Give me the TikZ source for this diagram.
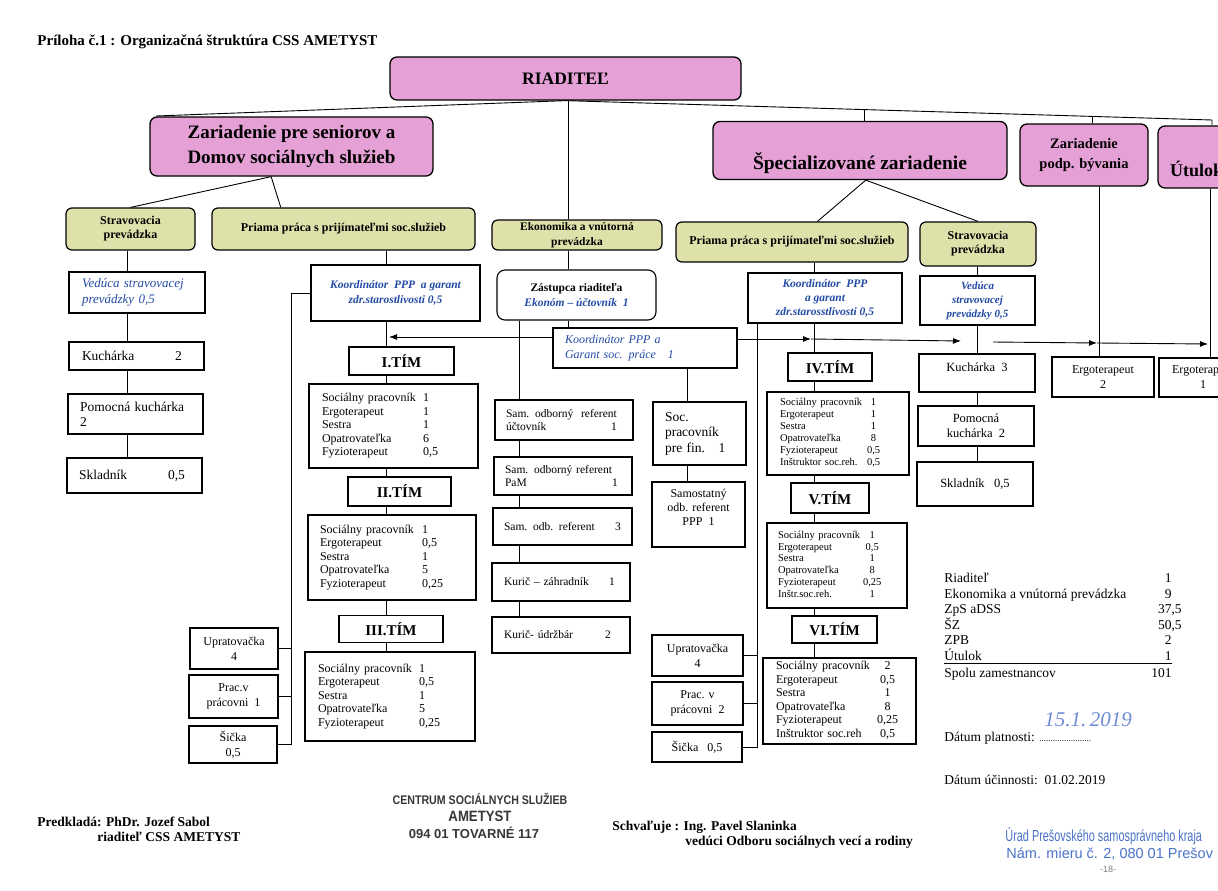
\documentclass[tikz,border=0pt]{standalone}
\usepackage{fontspec}
\setmainfont{Liberation Serif}
\newfontfamily\pecfont{Liberation Sans}
\usetikzlibrary{arrows.meta, calc}

\definecolor{ruzova}{RGB}{229,160,214}
\definecolor{zelena}{RGB}{222,226,170}
\definecolor{modra}{RGB}{35,75,165}
\definecolor{pero}{RGB}{110,140,215}
\definecolor{peciatka}{RGB}{75,115,200}
\definecolor{siva}{RGB}{55,55,55}

\begin{document}
\begin{tikzpicture}[x=1pt, y=-1pt, line width=0.9pt]

	\tikzstyle{hlavny}=[draw, line width=1.3pt, rounded corners=7pt, fill=ruzova, align=center, inner sep=0pt]
	\tikzstyle{usek}=[draw, line width=1.2pt, rounded corners=6pt, fill=zelena, align=center, inner sep=0pt, font=\bfseries\fontsize{12}{14}\selectfont]
	\tikzstyle{prac}=[draw, line width=1.1pt, align=center, inner sep=0pt, font=\fontsize{12}{15}\selectfont]
	\tikzstyle{vlavo}=[prac, align=left]
	\tikzstyle{tim}=[draw, line width=1.3pt, inner sep=0pt, font=\bfseries\fontsize{15}{18}\selectfont]
	\tikzstyle{zoznam}=[draw, line width=1.1pt, align=left, inner ysep=0pt, font=\fontsize{12}{13.6}\selectfont]
	\tikzstyle{txt}=[inner sep=0pt, anchor=base west, font=\fontsize{13.5}{16}\selectfont]
	\tikzstyle{sipka}=[-{Latex[length=8pt, width=6pt]}]

	\useasboundingbox (0,0) rectangle (1218,891);
	\fill[white] (0,0) rectangle (1218,891);

	\coordinate (riaditel) at (565.5,78.5);
	\coordinate (zps) at (291.5,146.5);
	\coordinate (sz) at (860,150.5);
	\coordinate (zpb) at (1084,155);
	\coordinate (utulok) at (1210,157);

	\coordinate (strav1) at (130.5,229); % USEKY
	\coordinate (priama1) at (343.5,229); % USEKY
	\coordinate (ekon) at (577,235); % USEKY
	\coordinate (priama2) at (792,242); % USEKY
	\coordinate (strav2) at (978,244); % USEKY

	\coordinate (ved1) at (137,292.5); % STRAVOVACIA ZPS
	\coordinate (kuch1) at (136.5,356); % STRAVOVACIA ZPS
	\coordinate (pomk1) at (135.5,414); % STRAVOVACIA ZPS
	\coordinate (skl1) at (134.5,475.5); % STRAVOVACIA ZPS

	\coordinate (koord1) at (395.5,293); % PRIAMA PRACA ZPS
	\coordinate (tim1) at (401.5,361); % PRIAMA PRACA ZPS
	\coordinate (zoz1) at (393.5,426); % PRIAMA PRACA ZPS
	\coordinate (tim2) at (399.5,491.5); % PRIAMA PRACA ZPS
	\coordinate (zoz2) at (392,557.5); % PRIAMA PRACA ZPS
	\coordinate (tim3) at (391,629); % PRIAMA PRACA ZPS
	\coordinate (zoz3) at (390,696.5); % PRIAMA PRACA ZPS
	\coordinate (upr1) at (234,648.5); % PRIAMA PRACA ZPS
	\coordinate (prac1) at (233.5,696.5); % PRIAMA PRACA ZPS
	\coordinate (sic1) at (233,744.5); % PRIAMA PRACA ZPS

	\coordinate (zast) at (576.5,295); % EKONOMIKA
	\coordinate (koord2) at (645,348); % EKONOMIKA
	\coordinate (sam1) at (564,420); % EKONOMIKA
	\coordinate (sam2) at (563,476); % EKONOMIKA
	\coordinate (sam3) at (562.5,526.5); % EKONOMIKA
	\coordinate (kur1) at (561,582); % EKONOMIKA
	\coordinate (kur2) at (561,635); % EKONOMIKA
	\coordinate (soc) at (699.5,433.5); % EKONOMIKA
	\coordinate (samref) at (698.5,514.5); % EKONOMIKA

	\coordinate (koord3) at (825,298); % PRIAMA PRACA SZ
	\coordinate (tim4) at (830,367); % PRIAMA PRACA SZ
	\coordinate (zoz4) at (838,433.5); % PRIAMA PRACA SZ
	\coordinate (tim5) at (830,498); % PRIAMA PRACA SZ
	\coordinate (zoz5) at (837,565.5); % PRIAMA PRACA SZ
	\coordinate (tim6) at (834.5,629.5); % PRIAMA PRACA SZ
	\coordinate (zoz6) at (839.5,701); % PRIAMA PRACA SZ
	\coordinate (upr2) at (697.5,655.5); % PRIAMA PRACA SZ
	\coordinate (prac2) at (697.5,703.5); % PRIAMA PRACA SZ
	\coordinate (sic2) at (697,747); % PRIAMA PRACA SZ

	\coordinate (ved2) at (977.5,300.5); % STRAVOVACIA SZ
	\coordinate (kuch3) at (977,373); % STRAVOVACIA SZ
	\coordinate (pomk2) at (976,426); % STRAVOVACIA SZ
	\coordinate (skl2) at (975,484); % STRAVOVACIA SZ
	\coordinate (ergo2) at (1103,377); % ZPB
	\coordinate (ergo1) at (1203,377.5); % UTULOK

	\coordinate (os0) at (127,0); % OSI
	\coordinate (osl) at (291,0); % OSI
	\coordinate (os1) at (386,0); % OSI
	\coordinate (os2) at (519,0); % OSI
	\coordinate (os9) at (568,0); % OSI
	\coordinate (os3) at (687,0); % OSI
	\coordinate (osr) at (757,0); % OSI
	\coordinate (os4) at (814,0); % OSI
	\coordinate (os6) at (977,0); % OSI
	\coordinate (os7) at (1099,0); % OSI
	\coordinate (os8) at (1210,0); % OSI

	\coordinate (b_zps) at (156,116);
	\coordinate (b_sz) at (864,109.2);
	\coordinate (b_zpb) at (1092,116.3);
	\coordinate (b_end) at (1212,120);

	\coordinate (h_l) at (389,337);
	\coordinate (h_1) at (811,339);
	\coordinate (h_2) at (961,341);
	\coordinate (h_3) at (993,342);
	\coordinate (h_4) at (1097,343);
	\coordinate (h_5) at (1208,344);

	\node[txt, font=\bfseries\fontsize{15}{18}\selectfont] (nadpis) at (37,46) {Príloha č.1 : Organizačná štruktúra CSS AMETYST};

	\node[hlavny, minimum width=351pt, minimum height=43pt, font=\bfseries\fontsize{17.5}{20}\selectfont] (riaditel) at (riaditel) {RIADITEĽ};
	\node[hlavny, minimum width=283pt, minimum height=59pt, font=\bfseries\fontsize{19}{25}\selectfont] (zps) at (zps) {Zariadenie pre seniorov a\\Domov sociálnych služieb};
	\node[hlavny, minimum width=294pt, minimum height=58pt, font=\bfseries\fontsize{19.5}{24}\selectfont] (sz) at (sz) {\strut\\Špecializované zariadenie};
	\node[hlavny, minimum width=128pt, minimum height=62pt, font=\bfseries\fontsize{14.5}{20}\selectfont] (zpb) at (zpb) {Zariadenie\\podp. bývania};
	\node[hlavny, align=left, text width=80pt, inner xsep=12pt, minimum height=62pt, font=\bfseries\fontsize{18}{22}\selectfont] (utulok) at (utulok) {\strut\\Útulok};

	\node[usek, minimum width=129pt, minimum height=42pt] (strav1) at (strav1) {Stravovacia\\prevádzka};
	\node[usek, minimum width=263pt, minimum height=42pt] (priama1) at (priama1) {Priama práca s prijímateľmi soc.služieb};
	\node[usek, minimum width=170pt, minimum height=30pt, font=\bfseries\fontsize{11.5}{15}\selectfont] (ekon) at (ekon) {Ekonomika a vnútorná\\prevádzka};
	\node[usek, minimum width=232pt, minimum height=40pt] (priama2) at (priama2) {Priama práca s prijímateľmi soc.služieb};
	\node[usek, minimum width=116pt, minimum height=44pt] (strav2) at (strav2) {Stravovacia\\prevádzka};

	\node[vlavo, minimum height=41pt, inner xsep=13pt, text width=110pt, text=modra, font=\itshape\fontsize{13}{16}\selectfont] (ved1) at (ved1) {Vedúca stravovacej\\prevádzky 0,5};
	\node[vlavo, minimum height=28pt, inner xsep=13pt, text width=109pt, font=\fontsize{13.5}{15}\selectfont] (kuch1) at (kuch1) {\makebox[93pt][l]{Kuchárka}2};
	\node[vlavo, minimum height=40pt, inner xsep=12pt, text width=111pt, font=\fontsize{13.5}{15}\selectfont] (pomk1) at (pomk1) {Pomocná kuchárka\\2};
	\node[vlavo, minimum height=35pt, inner xsep=12pt, text width=111pt, font=\fontsize{13.5}{15}\selectfont] (skl1) at (skl1) {\makebox[89pt][l]{Skladník}0,5};

	\node[prac, minimum width=169pt, minimum height=56pt, text=modra, font=\bfseries\itshape\fontsize{11.5}{15}\selectfont] (koord1) at (koord1) {Koordinátor\ \ PPP\ \ a garant\\zdr.starostlivosti 0,5};
	\node[tim, minimum width=105pt, minimum height=28pt] (tim1) at (tim1) {I.TÍM};
	\node[zoznam, minimum height=84pt, inner xsep=13pt, text width=143pt] (zoz1) at (zoz1) {\begin{tabular}{@{}p{101pt}@{}l@{}}
		Sociálny pracovník & 1\\ Ergoterapeut & 1\\ Sestra & 1\\ Opatrovateľka & 6\\ Fyzioterapeut & 0,5
	\end{tabular}};
	\node[tim, minimum width=103pt, minimum height=29pt] (tim2) at (tim2) {II.TÍM};
	\node[zoznam, minimum height=85pt, inner xsep=12pt, text width=144pt] (zoz2) at (zoz2) {\begin{tabular}{@{}p{102pt}@{}l@{}}
		Sociálny pracovník & 1\\ Ergoterapeut & 0,5\\ Sestra & 1\\ Opatrovateľka & 5\\ Fyzioterapeut & 0,25
	\end{tabular}};
	\node[tim, minimum width=104pt, minimum height=27pt] (tim3) at (tim3) {III.TÍM};
	\node[zoznam, minimum height=89pt, inner xsep=13pt, text width=144pt] (zoz3) at (zoz3) {\begin{tabular}{@{}p{101pt}@{}l@{}}
		Sociálny pracovník & 1\\ Ergoterapeut & 0,5\\ Sestra & 1\\ Opatrovateľka & 5\\ Fyzioterapeut & 0,25
	\end{tabular}};
	\node[prac, minimum width=88pt, minimum height=41pt] (upr1) at (upr1) {Upratovačka\\4};
	\node[prac, minimum width=89pt, minimum height=43pt] (prac1) at (prac1) {Prac.v\\prácovni\ \ 1};
	\node[prac, minimum width=88pt, minimum height=37pt] (sic1) at (sic1) {Šička\\0,5};

	\node[prac, rounded corners=8pt, minimum width=159pt, minimum height=50pt, font=\bfseries\fontsize{11.5}{15}\selectfont] (zast) at (zast) {Zástupca riaditeľa\\{\color{modra}\itshape Ekonóm – účtovník\ \ 1}};
	\node[vlavo, minimum height=40pt, inner xsep=12pt, text width=160pt, text=modra, font=\itshape\fontsize{12}{15}\selectfont] (koord2) at (koord2) {Koordinátor PPP a\\Garant soc. práce\ \ \ 1};
	\node[vlavo, minimum height=40pt, inner xsep=11pt, text width=116pt, font=\fontsize{11.5}{13.5}\selectfont] (sam1) at (sam1) {\mbox{Sam. odborný\ \ referent}\\\makebox[105pt][l]{účtovník}1};
	\node[vlavo, minimum height=38pt, inner xsep=11pt, text width=116pt, font=\fontsize{11.5}{13.5}\selectfont] (sam2) at (sam2) {\mbox{Sam. odborný referent}\\\makebox[107pt][l]{PaM}1};
	\node[vlavo, minimum height=37pt, inner xsep=11pt, text width=117pt, font=\fontsize{11.5}{13.5}\selectfont] (sam3) at (sam3) {\makebox[111pt][l]{Sam. odb. referent}3};
	\node[vlavo, minimum height=38pt, inner xsep=12pt, text width=114pt, font=\fontsize{11.5}{13.5}\selectfont] (kur1) at (kur1) {\makebox[105pt][l]{Kurič – záhradník}1};
	\node[vlavo, minimum height=36pt, inner xsep=12pt, text width=114pt, font=\fontsize{11.5}{13.5}\selectfont] (kur2) at (kur2) {\makebox[101pt][l]{Kurič- údržbár}2};
	\node[vlavo, minimum height=63pt, inner xsep=12pt, text width=69pt, font=\fontsize{13.5}{15.5}\selectfont] (soc) at (soc) {Soc.\\pracovník\\pre fin.\ \ \ 1};
	\node[prac, minimum width=93pt, minimum height=65pt, font=\fontsize{12}{14}\selectfont] (samref) at (samref) {Samostatný\\odb. referent\\PPP\ \ 1\\\mbox{}};

	\node[prac, minimum width=154pt, minimum height=50pt, text=modra, font=\bfseries\itshape\fontsize{11.5}{14}\selectfont] (koord3) at (koord3) {Koordinátor\ \ PPP\\a garant\\zdr.starosstlivosti 0,5};
	\node[tim, minimum width=84pt, minimum height=28pt] (tim4) at (tim4) {IV.TÍM};
	\node[zoznam, minimum height=83pt, inner xsep=13pt, text width=116pt, font=\fontsize{10.5}{12}\selectfont] (zoz4) at (zoz4) {\begin{tabular}{@{}p{87pt}@{}c@{}}
		Sociálny pracovník & 1\\ Ergoterapeut & 1\\ Sestra & 1\\ Opatrovateľka & 8\\ Fyzioterapeut & 0,5\\ Inštruktor soc.reh. & 0,5
	\end{tabular}};
	\node[tim, minimum width=78pt, minimum height=30pt] (tim5) at (tim5) {V.TÍM};
	\node[zoznam, minimum height=85pt, inner xsep=11pt, text width=118pt, font=\fontsize{10.5}{11.8}\selectfont] (zoz5) at (zoz5) {\begin{tabular}{@{}p{85pt}@{}c@{}}
		Sociálny pracovník & 1\\ Ergoterapeut & 0,5\\ Sestra & 1\\ Opatrovateľka & 8\\ Fyzioterapeut & 0,25\\ Inštr.soc.reh. & 1
	\end{tabular}};
	\node[tim, minimum width=85pt, minimum height=27pt] (tim6) at (tim6) {VI.TÍM};
	\node[zoznam, minimum height=86pt, inner xsep=13pt, text width=127pt, font=\fontsize{12}{13.5}\selectfont] (zoz6) at (zoz6) {\begin{tabular}{@{}p{101pt}@{}c@{}}
		Sociálny pracovník & 2\\ Ergoterapeut & 0,5\\ Sestra & 1\\ Opatrovateľka & 8\\ Fyzioterapeut & 0,25\\ Inštruktor soc.reh & 0,5
	\end{tabular}};
	\node[prac, minimum width=91pt, minimum height=41pt] (upr2) at (upr2) {Upratovačka\\4};
	\node[prac, minimum width=91pt, minimum height=43pt] (prac2) at (prac2) {Prac. v\\prácovni\ \ 2};
	\node[prac, minimum width=90pt, minimum height=30pt] (sic2) at (sic2) {Šička\ \ \ 0,5};

	\node[prac, minimum width=115pt, minimum height=49pt, text=modra, font=\bfseries\itshape\fontsize{11}{14}\selectfont] (ved2) at (ved2) {Vedúca\\stravovacej\\prevádzky 0,5};
	\node[prac, minimum width=116pt, minimum height=38pt, font=\fontsize{12.5}{12}\selectfont] (kuch3) at (kuch3) {Kuchárka\ \ 3\\\mbox{}};
	\node[prac, minimum width=116pt, minimum height=40pt, font=\fontsize{12.5}{15}\selectfont] (pomk2) at (pomk2) {Pomocná\\kuchárka\ \ 2};
	\node[prac, minimum width=116pt, minimum height=44pt, font=\fontsize{12.5}{15}\selectfont] (skl2) at (skl2) {Skladník\ \ \ 0,5};
	\node[prac, minimum width=102pt, minimum height=40pt] (ergo2) at (ergo2) {Ergoterapeut\\2};
	\node[prac, minimum width=88pt, minimum height=39pt] (ergo1) at (ergo1) {Ergoterapeut\\1};

	% RIADITEL
	\draw (riaditel.south) -- (b_zps);
	\draw (riaditel.south) -- (b_end) -- (b_end |- utulok.north);
	\draw (b_sz) -- (b_sz |- sz.north);
	\draw (b_zpb) -- (b_zpb |- zpb.north);
	\draw (os9 |- riaditel.south) -- (os9 |- ekon.north);

	% ZPS, SZ
	\draw (zps.236) -- (strav1.north);
	\draw (zps.236) -- (priama1.161);
	\draw (sz.281) -- (priama2.39);
	\draw (sz.281) -- (strav2.north);
	\draw (os7 |- zpb.south) -- (os7 |- ergo2.north);
	\draw (os8 |- utulok.south) -- (os8 |- ergo1.north);

	% STRAVOVACIA ZPS
	\draw (os0 |- strav1.south) -- (os0 |- ved1.north);
	\draw (os0 |- ved1.south) -- (os0 |- kuch1.north);
	\draw (os0 |- kuch1.south) -- (os0 |- pomk1.north);
	\draw (os0 |- pomk1.south) -- (os0 |- skl1.north);

	% PRIAMA PRACA ZPS
	\draw (os1 |- priama1.south) -- (os1 |- koord1.north);
	\draw (os1 |- koord1.south) -- (os1 |- tim1.north);
	\draw (os1 |- tim1.south) -- (os1 |- zoz1.north);
	\draw (os1 |- zoz1.south) -- (os1 |- tim2.north);
	\draw (os1 |- tim2.south) -- (os1 |- zoz2.north);
	\draw (os1 |- zoz2.south) -- (os1 |- tim3.north);
	\draw (os1 |- tim3.south) -- (os1 |- zoz3.north);
	\draw (koord1.west) -| (osl |- sic1.east) -- (sic1.east);
	\draw (upr1.east) -- (osl |- upr1.east);
	\draw (prac1.east) -- (osl |- prac1.east);

	% EKONOMIKA
	\draw (os9 |- ekon.south) -- (os9 |- zast.north);
	\draw (os9 |- zast.south) -- (os9 |- koord2.north);
	\draw (os2 |- zast.south) -- (os2 |- sam1.north);
	\draw (os2 |- sam1.south) -- (os2 |- sam2.north);
	\draw (os2 |- sam2.south) -- (os2 |- sam3.north);
	\draw (os2 |- sam3.south) -- (os2 |- kur1.north);
	\draw (os2 |- kur1.south) -- (os2 |- kur2.north);
	\draw (os3 |- koord2.south) -- (os3 |- soc.north);
	\draw (os3 |- soc.south) -- (os3 |- samref.north);

	% PRIAMA PRACA SZ
	\draw (os4 |- priama2.south) -- (os4 |- koord3.north);
	\draw (os4 |- koord3.south) -- (os4 |- tim4.north);
	\draw (os4 |- tim4.south) -- (os4 |- zoz4.north);
	\draw (os4 |- zoz4.south) -- (os4 |- tim5.north);
	\draw (os4 |- tim5.south) -- (os4 |- zoz5.north);
	\draw (os4 |- zoz5.south) -- (os4 |- tim6.north);
	\draw (os4 |- tim6.south) -- (os4 |- zoz6.north);
	\draw (osr |- koord3.south) -- (osr |- sic2.east) -- (sic2.east);
	\draw (upr2.east) -- (osr |- upr2.east);
	\draw (prac2.east) -- (osr |- prac2.east);

	% STRAVOVACIA SZ
	\draw (os6 |- strav2.south) -- (os6 |- ved2.north);
	\draw (os6 |- ved2.south) -- (os6 |- kuch3.north);
	\draw (os6 |- kuch3.south) -- (os6 |- pomk2.north);
	\draw (os6 |- pomk2.south) -- (os6 |- skl2.north);

	% KOORDINATOR PPP A GARANT
	\draw[sipka] (h_l -| koord2.west) -- (h_l);
	\draw[sipka] (h_1 -| koord2.east) -- (h_1);
	\draw[sipka] (h_1) -- (h_2);
	\draw[sipka] (h_3) -- (h_4);
	\draw[sipka] (h_4) -- (h_5);

	% SUMAR
	\node[txt] (s_1) at (944,582.5) {Riaditeľ};
	\node[txt] (s_2) at (944,598) {Ekonomika a vnútorná prevádzka};
	\node[txt] (s_3) at (944,613.5) {ZpS aDSS};
	\node[txt] (s_4) at (944,629) {ŠZ};
	\node[txt] (s_5) at (944,644.5) {ZPB};
	\node[txt] (s_6) at (944,660) {Útulok};
	\node[txt] (s_7) at (944,677.5) {Spolu zamestnancov};
	\node[txt, anchor=base east] (p_1) at (1172,582.5) {1};
	\node[txt, anchor=base east] (p_2) at (1172,598) {9};
	\node[txt, anchor=base east] (p_3) at (1172,613.5) {37\rlap{,5}};
	\node[txt, anchor=base east] (p_4) at (1172,629) {50\rlap{,5}};
	\node[txt, anchor=base east] (p_5) at (1172,644.5) {2};
	\node[txt, anchor=base east] (p_6) at (1172,660) {1};
	\node[txt, anchor=base east] (p_7) at (1172,677.5) {101};
	\draw[line width=0.8pt] ($(s_6.base west)+(0,3)$) -- ($(p_6.base east)+(0,3)$);

	\node[txt] (platnost) at (944,741.5) {Dátum platnosti: {\fontsize{9}{9}\selectfont .......................}};
	\node[txt, text=pero, font=\itshape\fontsize{21}{21}\selectfont] (podpis) at (1044,726) {15.1.\,2019};
	\node[txt] (ucinnost) at (944,784.5) {Dátum účinnosti:\ \ 01.02.2019};

	% PODPISY
	\node[txt, font=\bfseries\fontsize{13.5}{16}\selectfont] (predklada) at (37,826.5) {Predkladá: PhDr. Jozef Sabol};
	\node[txt, font=\bfseries\fontsize{13.5}{16}\selectfont] (predklada2) at (97,841) {riaditeľ CSS AMETYST};
	\node[txt, font=\bfseries\fontsize{13.5}{16}\selectfont] (schvaluje) at (612,830.5) {Schvaľuje : Ing. Pavel Slaninka};
	\node[txt, font=\bfseries\fontsize{13.5}{16}\selectfont] (schvaluje2) at (685,845.5) {vedúci Odboru sociálnych vecí a rodiny};

	\node[inner sep=0pt, anchor=base, text=siva, font=\pecfont\bfseries\fontsize{12.5}{14}\selectfont] (pec_1) at (480,804.5) {\scalebox{0.85}[1]{CENTRUM SOCIÁLNYCH SLUŽIEB}};
	\node[inner sep=0pt, anchor=base, text=siva, font=\pecfont\bfseries\fontsize{15}{17}\selectfont] (pec_2) at (480,821) {\scalebox{0.88}[1]{AMETYST}};
	\node[inner sep=0pt, anchor=base, text=siva, font=\pecfont\bfseries\fontsize{13}{15}\selectfont] (pec_3) at (474,838) {094 01 TOVARNÉ 117};

	\node[txt, text=peciatka, font=\pecfont\fontsize{16}{18}\selectfont] (urad_1) at (1005,841) {\scalebox{0.68}[1]{Úrad Prešovského samosprávneho kraja}};
	\node[txt, text=peciatka, font=\pecfont\fontsize{14.5}{16}\selectfont] (urad_2) at (1006,858) {Nám. mieru č. 2, 080 01 Prešov};
	\node[inner sep=0pt, anchor=base, text=gray, font=\pecfont\fontsize{9}{10}\selectfont] (strana) at (1108,872) {-18-};
\end{tikzpicture}
\end{document}
